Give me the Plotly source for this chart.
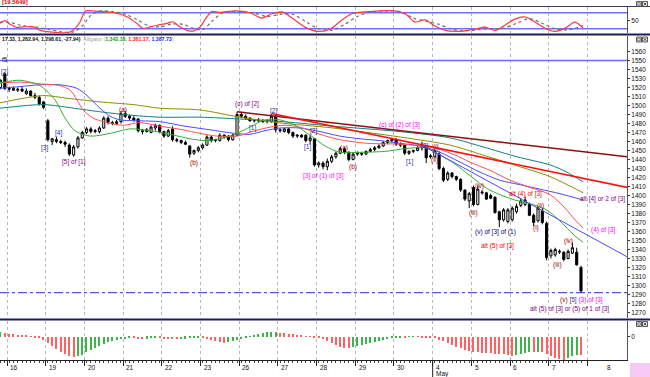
import plotly.graph_objects as go

# ---------------- data ----------------
candle_idx = list(range(-2, 134))
opens = [1520, 1535,
         1518, 1519, 1517, 1518, 1513, 1516, 1511, 1509, 1504,
         1483, 1460, 1462, 1460, 1459, 1456, 1445, 1454, 1464,
         1470, 1474, 1471, 1471, 1475, 1486, 1481, 1480, 1482,
         1491, 1488, 1486, 1485, 1472, 1471, 1470, 1475, 1478,
         1471, 1466, 1474, 1462, 1461, 1459, 1455, 1447, 1450,
         1453, 1456, 1465, 1461, 1461, 1467, 1466, 1462, 1467,
         1490, 1488, 1486, 1483, 1484, 1483, 1482, 1482, 1488,
         1473, 1471, 1474, 1470, 1466, 1467, 1467, 1461, 1463,
         1434, 1436, 1432, 1438, 1443, 1447, 1452, 1448, 1440,
         1446, 1447, 1446, 1449, 1451, 1453, 1455, 1459, 1461,
         1462, 1457, 1456, 1447, 1449, 1450, 1453, 1454, 1443,
         1443, 1446, 1430, 1418, 1425, 1421, 1418, 1406, 1394,
         1409, 1390, 1404, 1403, 1400, 1398, 1382, 1373, 1371,
         1373, 1382, 1389, 1390, 1390, 1378, 1372, 1383, 1369,
         1333, 1334, 1337, 1337, 1330, 1336, 1337, 1320]
highs = [1529, 1537,
         1521, 1521, 1520, 1521, 1519, 1517, 1514, 1511, 1505,
         1485, 1464, 1465, 1462, 1461, 1458, 1456, 1466, 1472,
         1476, 1476, 1474, 1477, 1488, 1488, 1483, 1484, 1494,
         1494, 1490, 1488, 1486, 1474, 1475, 1478, 1480, 1479,
         1472, 1474, 1477, 1464, 1462, 1461, 1456, 1451, 1455,
         1458, 1467, 1466, 1463, 1469, 1468, 1467, 1469, 1493,
         1493, 1490, 1487, 1485, 1486, 1485, 1484, 1490, 1490,
         1475, 1475, 1475, 1471, 1468, 1468, 1468, 1467, 1464,
         1438, 1438, 1441, 1445, 1449, 1454, 1453, 1449, 1448,
         1449, 1448, 1450, 1453, 1455, 1457, 1460, 1462, 1464,
         1464, 1459, 1457, 1450, 1451, 1455, 1460, 1456, 1446,
         1452, 1449, 1432, 1427, 1426, 1422, 1419, 1407, 1404,
         1411, 1411, 1406, 1404, 1402, 1399, 1383, 1386, 1386,
         1388, 1391, 1397, 1399, 1392, 1380, 1388, 1386, 1371,
         1341, 1342, 1340, 1338, 1340, 1348, 1342, 1322]
lows = [1518, 1517,
        1515, 1516, 1515, 1515, 1512, 1510, 1507, 1500, 1496,
        1460, 1456, 1458, 1457, 1454, 1444, 1443, 1452, 1463,
        1468, 1469, 1469, 1469, 1474, 1479, 1478, 1478, 1480,
        1486, 1484, 1482, 1470, 1468, 1470, 1469, 1472, 1469,
        1464, 1465, 1460, 1459, 1457, 1456, 1442, 1445, 1448,
        1451, 1455, 1459, 1459, 1460, 1463, 1460, 1461, 1466,
        1486, 1484, 1482, 1481, 1482, 1481, 1480, 1481, 1470,
        1470, 1470, 1468, 1464, 1464, 1464, 1459, 1457, 1432,
        1431, 1429, 1428, 1436, 1441, 1446, 1446, 1438, 1439,
        1444, 1444, 1445, 1448, 1449, 1452, 1454, 1457, 1459,
        1455, 1454, 1445, 1445, 1447, 1449, 1450, 1436, 1441,
        1442, 1428, 1415, 1416, 1419, 1416, 1404, 1394, 1386,
        1388, 1389, 1401, 1395, 1396, 1380, 1365, 1371, 1369,
        1371, 1380, 1387, 1388, 1377, 1366, 1370, 1368, 1328,
        1330, 1332, 1335, 1327, 1329, 1335, 1322, 1292]
closes = [1528, 1519,
          1519, 1517, 1518, 1516, 1516, 1511, 1509, 1502, 1498,
          1462, 1463, 1460, 1459, 1457, 1446, 1454, 1464, 1470,
          1474, 1471, 1472, 1475, 1486, 1481, 1480, 1482, 1491,
          1488, 1486, 1484, 1472, 1471, 1473, 1476, 1478, 1471,
          1466, 1472, 1462, 1461, 1459, 1457, 1446, 1450, 1453,
          1456, 1465, 1461, 1462, 1467, 1465, 1462, 1467, 1490,
          1488, 1486, 1483, 1484, 1483, 1482, 1483, 1488, 1473,
          1472, 1474, 1470, 1466, 1467, 1465, 1461, 1464, 1434,
          1436, 1432, 1438, 1443, 1447, 1452, 1448, 1440, 1446,
          1447, 1446, 1449, 1451, 1453, 1455, 1459, 1461, 1462,
          1457, 1456, 1447, 1449, 1450, 1453, 1456, 1442, 1444,
          1450, 1430, 1417, 1425, 1421, 1418, 1406, 1396, 1402,
          1390, 1407, 1403, 1396, 1397, 1381, 1373, 1384, 1384,
          1386, 1388, 1394, 1395, 1378, 1370, 1386, 1370, 1331,
          1339, 1340, 1338, 1329, 1338, 1342, 1323, 1294]

# Alligator & moving averages (knots)
lips_x = [-2.13, 2.5, 7.2, 10.7, 13, 15.3, 18.8, 23.5, 28.1, 32.8, 37.4, 42.1, 45.6, 49, 52.5, 56, 59.5, 63,
          66.5, 70, 73.5, 76.9, 81.6, 87.4, 92.1, 96.7, 100.2, 103.7, 107.2, 111.1, 114.1, 117.6, 121.1,
          124.6, 126.9, 129.3, 131.6, 133.5]
lips_y = [1525, 1528, 1522, 1506, 1486, 1472, 1466, 1469, 1474, 1472, 1468, 1463, 1461, 1463, 1468, 1476, 1484,
          1484, 1478, 1467, 1455, 1448, 1448, 1449, 1452, 1453, 1445, 1435, 1422, 1408, 1401, 1395, 1391,
          1385, 1377, 1366, 1355, 1348]
teeth_x = [-2.13, 2.5, 7.2, 11.8, 14.2, 15.8, 17.2, 19.5, 22.8, 26.5, 30.4, 35.1, 40.4, 44.4, 48.3, 53, 57.2,
           60.7, 64.2, 67.6, 72.3, 76.9, 83.2, 90.9, 98.6, 103.7, 107.2, 111.8, 116.5, 121.1, 125.8, 129.3,
           131.6, 133.5]
teeth_y = [1525, 1526, 1524, 1522, 1517, 1506, 1495, 1486, 1481, 1478, 1481, 1477, 1473, 1469, 1466, 1466, 1472,
           1476, 1478, 1476, 1468, 1462, 1458, 1457, 1453, 1445, 1437, 1428, 1417, 1409, 1401, 1386, 1373, 1364]
jaw_x = [-2.13, 2.5, 7.2, 11.8, 15.8, 18.1, 21.1, 23.5, 25.8, 30.4, 35.1, 40.9, 46.7, 52.5, 56, 59.5, 63, 67.6,
         72.3, 76.9, 81.6, 86.2, 90.9, 95.6, 100.2, 104.9, 109.5, 114.1, 118.8, 123.5, 128.1, 133.5]
jaw_y = [1519, 1521, 1523, 1523, 1519, 1511, 1497, 1488, 1484, 1483, 1482, 1477, 1473, 1469, 1468, 1472, 1475,
         1475, 1471, 1466, 1463, 1461, 1458, 1455, 1448, 1437, 1426, 1417, 1412, 1407, 1402, 1395]
olive_x = [-2.13, 7.9, 13.5, 21.1, 28.8, 35.1, 44.4, 53.7, 62.3, 75.3, 90.9, 102.5, 110.2, 118.1, 125.8, 133.5]
olive_y = [1503, 1511, 1508, 1504, 1501, 1497, 1495, 1487, 1481, 1475, 1465, 1456, 1445, 1433, 1421, 1403]
teal_x = [-2.13, 7.9, 13.5, 21.1, 28.8, 35.1, 44.4, 53.7, 63.7, 75.3, 90.9, 102.5, 110.2, 118.1, 125.8, 129.7,
          133.5]
teal_y = [1497, 1501, 1498, 1493, 1489, 1487, 1487, 1485, 1482, 1477, 1471, 1464, 1454, 1443, 1434, 1426, 1415]

# trend lines (start, end)
maroon_x = [53, 143.7]
maroon_y = [1493, 1443]
redtl_x = [61, 143.7]
redtl_y = [1491, 1409]
bluetl_x = [96, 143.7]
bluetl_y = [1456, 1332]
level_top = 1550
level_low = 1292

# oscillator (top panel)
osc_x = [-2.13, -1, 0.2, 1.8, 3.2, 5.6, 7.2, 9.5, 13.5, 14.9, 16.5, 17.6, 18.3, 21.1, 24.2, 27.4, 29.7, 31.1,
         32.8, 34.4, 36.7, 38.1, 39.7, 41.4, 42.8, 44.4, 46, 47.2, 49, 52.5, 56, 58.8, 61.1, 63.5, 65.8, 68.8,
         71.8, 74.6, 77.4, 79.7, 82.8, 86.2, 89.7, 92.1, 94.4, 96.7, 99, 101.4, 104.8, 108.3, 110.7, 113,
         115.3, 117.6, 120, 122.3, 124.6, 126.9, 129.3, 131.6, 133.5]
osc_red = [40, 50, 37, 25, 27, 27, 14, 8, 5, 14, 46, 85, 88, 85, 81, 65, 40, 21, 27, 33, 40, 46, 27, 14, 11,
           27, 65, 85, 81, 87, 80, 60, 76, 83, 60, 26, 10, 18, 53, 76, 83, 87, 87, 76, 45, 53, 30, 14, 10, 18,
           26, 14, 33, 56, 64, 45, 22, 10, 22, 45, 22]
sig_x = [-2.13, 0.5, 3, 6, 9, 12, 15, 17, 19, 21, 24, 27, 30, 32.5, 35, 38, 40.5, 43, 45, 47, 49.5, 53, 57, 60,
         63, 66, 69, 72, 75, 78, 81, 84, 88, 91, 94, 97, 100, 103, 106, 109, 112, 115, 118, 121, 124, 127, 130,
         133.5]
sig_y = [45, 42, 32, 27, 18, 9, 8, 30, 70, 86, 84, 74, 52, 30, 27, 38, 36, 20, 16, 45, 78, 85, 78, 66, 74, 74,
         46, 20, 14, 36, 66, 82, 87, 84, 60, 48, 36, 18, 12, 16, 20, 22, 40, 58, 40, 20, 16, 32]
osc_levels = [80, 20]

# histogram (bottom panel)
ao_vals = [7.5, 6,
           4.5, 4.5, 3, 3, 1.5, 0.8, -0.8, -1.5, -4.5,
           -9, -13.5, -18, -22.5, -25.5, -28.5, -30, -29, -27,
           -22.5, -19.5, -16.5, -13.5, -10.5, -7.5, -6, -4.5, -3.8,
           -3, -2.3, -2.5, -3, -3.2, -2.7, -2.3, -2.1, -2.4,
           -3, -3.2, -3.4, -3.8, -3.3, -2.7, -2.2, -1.8, -1.5,
           -2.2, -3, -4.5, -6.8, -8.2, -9, -7.5, -6, -4.5,
           -3, -1.5, 0.8, 2.3, 3.8, 5.3, 6.8, 7.5, 7.8,
           6, 5.3, 4.5, 3.8, 3, 1.5, 0.8, 0.3, -0.8,
           -1.5, -3, -6, -9, -12, -15, -16.5, -17.3, -15.8,
           -14.3, -12.8, -11.3, -9.8, -8.3, -6.8, -5.3, -3.8, -2.3,
           -1.5, -0.8, -1, 0.5, 0.8, 0.5, -0.8, -1.2, -1.5,
           -2.3, -4.5, -6.8, -9, -12, -15, -16.5, -19.5, -21,
           -22.5, -23.3, -24, -24.5, -24.8, -25.5, -26.3, -26.5, -27,
           -28.5, -27, -25.5, -24, -22.5, -23, -22.8, -23.5, -25.5,
           -28.5, -31.5, -33, -34.5, -31.5, -28.5, -27, -28]

# x axis day labels
day_labels = ["16", "19", "20", "21", "22", "23", "26", "27", "28", "29", "30", "4", "5", "6", "7", "8"]
day_bounds = [-0.5 + 9 * k for k in range(16)]
price_ticks = list(range(1270, 1561, 10))

# wave labels: text, x, price, colour
NAVY = "#2b2ba6"
PURP = "#800080"
DRED = "#a00000"
MAG = "#ff00ff"
RED = "#ff0000"
wave_labels = [
    ("[2]", -1.0, 1537, NAVY), ("[3]", 8.3, 1453, NAVY), ("[4]", 11.4, 1469, NAVY),
    ("[5] of [1]", 15.1, 1437, PURP), ("(a)", 26.5, 1495, DRED), ("(b)", 43, 1436, DRED),
    ("(c) of [2]", 55.3, 1502, PURP), ("[1]", 56.5, 1475, NAVY), ("[2]", 61.4, 1494, NAVY),
    ("[1]", 69.5, 1454, NAVY), ("[2]", 70.9, 1472, NAVY), ("[3] of (1) of [3]", 73.2, 1422, MAG),
    ("(a)", 77.9, 1453, DRED), ("(b)", 80, 1432, DRED), ("(c) of (2) of [3]", 90.7, 1478, MAG),
    ("[1]", 93.2, 1437, NAVY), ("[2]", 96.7, 1455, NAVY), ("(i)", 99.3, 1454, DRED),
    ("(ii)", 99.0, 1439, DRED), ("(iii)", 108.1, 1381, DRED), ("(iv)", 109.5, 1411, DRED),
    ("(v) of [3] of (1)", 113.2, 1359, "#000080"), ("alt (5) of [3]", 113.5, 1344, RED),
    ("alt (4) of [3]", 120.2, 1402, RED), ("(i)", 122.5, 1364, DRED), ("(ii)", 123.5, 1388, DRED),
    ("alt [4] or 2 of [3]", 137.9, 1396, PURP), ("(4) of [3]", 138.1, 1362, MAG),
    ("(iv)", 130.2, 1349, DRED), ("(iii)", 127.6, 1323, DRED),
    ("alt (5) of [3] or (5) of 1 of [3]", 130.4, 1274, PURP),
]

# ---------------- geometry ----------------
W, H = 650, 377
PLOT_W = 627
X_MIN, X_MAX = -2.13, 143.7
FONT = "Liberation Sans, Arial, sans-serif"


def pxx(px):
    return px / PLOT_W


def pxy(py):
    return 1 - py / H


fig = go.Figure()

# main panel
fig.add_trace(go.Candlestick(
    x=candle_idx, open=opens, high=highs, low=lows, close=closes,
    increasing=dict(line=dict(color="black", width=1), fillcolor="white"),
    decreasing=dict(line=dict(color="black", width=1), fillcolor="black"),
    whiskerwidth=0, xaxis="x", yaxis="y", showlegend=False, hoverinfo="skip"))

for xs, ys, col in [(teal_x, teal_y, "#108080"), (olive_x, olive_y, "#8c8c00"),
                    (jaw_x, jaw_y, "#4a4aff"), (teeth_x, teeth_y, "#ff5050"),
                    (lips_x, lips_y, "#30b030")]:
    fig.add_trace(go.Scatter(x=xs, y=ys, mode="lines", xaxis="x", yaxis="y", showlegend=False,
                             hoverinfo="skip",
                             line=dict(color=col, width=1, shape="spline", smoothing=0.8)))

fig.add_trace(go.Scatter(x=maroon_x, y=maroon_y, mode="lines", xaxis="x", yaxis="y", showlegend=False,
                         line=dict(color="#8b1010", width=1.6)))
fig.add_trace(go.Scatter(x=redtl_x, y=redtl_y, mode="lines", xaxis="x", yaxis="y", showlegend=False,
                         line=dict(color="#ff1010", width=1.6)))
fig.add_trace(go.Scatter(x=bluetl_x, y=bluetl_y, mode="lines", xaxis="x", yaxis="y", showlegend=False,
                         line=dict(color="#4a4aff", width=1)))
fig.add_trace(go.Scatter(x=[X_MIN, X_MAX], y=[level_top, level_top], mode="lines", xaxis="x", yaxis="y",
                         showlegend=False, line=dict(color="#6a6aff", width=1.5)))
fig.add_trace(go.Scatter(x=[X_MIN, X_MAX], y=[level_low, level_low], mode="lines", xaxis="x", yaxis="y",
                         showlegend=False, line=dict(color="#2a2ad0", width=1, dash="dashdot")))

# top oscillator
for lv in osc_levels:
    fig.add_trace(go.Scatter(x=[X_MIN, X_MAX], y=[lv, lv], mode="lines", xaxis="x2", yaxis="y2",
                             showlegend=False, line=dict(color="#7070ff", width=1.5)))
fig.add_trace(go.Scatter(x=sig_x, y=sig_y, mode="lines", xaxis="x2", yaxis="y2", showlegend=False,
                         line=dict(color="#707070", width=1.2, dash="dot", shape="spline", smoothing=0.8)))
fig.add_trace(go.Scatter(x=osc_x, y=osc_red, mode="lines", xaxis="x2", yaxis="y2", showlegend=False,
                         line=dict(color="#ff3a3a", width=1.2, shape="spline", smoothing=0.8)))

# bottom histogram
ao_colors = ["#3cb44b" if i > 0 and ao_vals[i] > ao_vals[i - 1] else "#ff6060" for i in range(len(ao_vals))]
ao_colors[0] = "#3cb44b"
fig.add_trace(go.Bar(x=candle_idx, y=ao_vals, marker=dict(color=ao_colors, line=dict(width=0)), width=0.28,
                     xaxis="x3", yaxis="y3", showlegend=False, hoverinfo="skip"))

# ---------------- axes ----------------
grid = dict(showgrid=True, gridcolor="#b8b8b8", griddash="dot", gridwidth=1,
            tickmode="array", tickvals=day_bounds, zeroline=False, range=[X_MIN, X_MAX],
            domain=[0, 1], fixedrange=True)
tick_font = dict(size=6.5, family=FONT, color="#111")
fig.update_layout(
    xaxis=dict(**grid, anchor="y", showticklabels=False, ticks="", rangeslider=dict(visible=False)),
    xaxis2=dict(**grid, anchor="y2", showticklabels=False, ticks=""),
    xaxis3=dict(**grid, anchor="y3", showticklabels=False, ticks="outside", ticklen=5, tickcolor="#222",
                showline=True, linecolor="#222", linewidth=1,
                minor=dict(ticks="outside", ticklen=2, tickcolor="#444", tickvals=candle_idx)),
    yaxis=dict(domain=[pxy(318), pxy(36)], range=[1263.9, 1577.2], side="right", tickmode="array",
               tickvals=price_ticks, ticktext=[str(v) for v in price_ticks], ticks="outside", ticklen=2,
               tickcolor="#333", tickfont=tick_font, showgrid=False, automargin=False,
               showline=True, linecolor="#555", zeroline=False, anchor="x"),
    yaxis2=dict(domain=[pxy(33), pxy(7)], range=[3.9, 101.4], side="right", tickmode="array", tickvals=[50],
                ticktext=["50"], ticks="outside", ticklen=2, tickcolor="#333", automargin=False,
                tickfont=tick_font, showgrid=False, showline=True,
                linecolor="#555", zeroline=False, anchor="x2"),
    yaxis3=dict(domain=[pxy(360), pxy(321)], range=[-34.95, 23.55], side="right", tickmode="array",
                tickvals=[0], ticktext=["0"], ticks="outside", ticklen=2, tickcolor="#333", automargin=False,
                tickfont=tick_font, showgrid=False, showline=True,
                linecolor="#555", zeroline=False, anchor="x3"),
    width=W, height=H, margin=dict(l=0, r=W - PLOT_W, t=0, b=0, pad=0),
    paper_bgcolor="white", plot_bgcolor="white", showlegend=False, bargap=0,
    font=dict(family=FONT, size=7, color="black"),
)

# ---------------- shapes ----------------
shapes = []
right_edge = pxx(W)
for py, wdt, col in [(6.5, 1, "#3a3a6a"), (34.5, 2, "#1c1c5c"), (319.5, 2, "#1c1c5c")]:
    shapes.append(dict(type="line", xref="paper", yref="paper", x0=0, x1=right_edge, y0=pxy(py), y1=pxy(py),
                       line=dict(color=col, width=wdt)))
may_b = day_bounds[11]
shapes.append(dict(type="line", xref="x3", yref="paper", x0=may_b, x1=may_b, y0=pxy(361), y1=pxy(377),
                   line=dict(color="#222", width=1)))
for top in [1.5, 37, 321.5]:
    for bx in [636.5, 642.5]:
        shapes.append(dict(type="rect", xref="paper", yref="paper", x0=pxx(bx), x1=pxx(bx + 5),
                           y0=pxy(top + 5), y1=pxy(top), line=dict(color="#333", width=0.8),
                           fillcolor="#f0f0f0"))
    shapes.append(dict(type="rect", xref="paper", yref="paper", x0=pxx(637.8), x1=pxx(640.3),
                       y0=pxy(top + 3.8), y1=pxy(top + 1.3), line=dict(color="#333", width=0.6)))
    shapes.append(dict(type="line", xref="paper", yref="paper", x0=pxx(643.6), x1=pxx(646.4),
                       y0=pxy(top + 1.1), y1=pxy(top + 3.9), line=dict(color="#222", width=0.8)))
    shapes.append(dict(type="line", xref="paper", yref="paper", x0=pxx(643.6), x1=pxx(646.4),
                       y0=pxy(top + 3.9), y1=pxy(top + 1.1), line=dict(color="#222", width=0.8)))
shapes.append(dict(type="rect", xref="paper", yref="paper", x0=pxx(630), x1=pxx(650), y0=0, y1=pxy(363),
                   line=dict(width=0), fillcolor="#f6c8f6"))
fig.update_layout(shapes=shapes)

# ---------------- annotations ----------------
ann = []
for txt, xv, yv, col in wave_labels:
    ann.append(dict(text=txt, x=xv, y=yv, xref="x", yref="y", showarrow=False,
                    font=dict(size=6.5, color=col, family=FONT), xanchor="center", yanchor="middle"))
ann.append(dict(text="<span style='color:#a00000'>(v)</span> <span style='color:#2b2ba6'>[5]</span> "
                     "<span style='color:#ff00ff'>(3) of [3]</span>",
                x=133, y=1284, xref="x", yref="y", showarrow=False,
                font=dict(size=6.5, family=FONT), xanchor="center", yanchor="middle"))
ann.append(dict(text="f5", x=0, y=pxy(59.5), xref="paper", yref="paper", showarrow=False,
                font=dict(size=6.5, color="#222", family=FONT), xanchor="left", yanchor="middle"))
ann.append(dict(text="<b>[19.5649]</b>", x=0, y=pxy(2.5), xref="paper", yref="paper", showarrow=False,
                font=dict(size=6, color="#e00000", family=FONT), xanchor="left", yanchor="middle"))
ann.append(dict(text="<b>17.33, 1,282.94, 1,298.61, -27.94)</b>  "
                     "<span style='color:#9a9a9a'><i>Alligator</i> (</span>"
                     "<b><span style='color:#139a13'>1,342.18,</span> "
                     "<span style='color:#ff2020'>1,361.17,</span> "
                     "<span style='color:#2020ff'>1,387.73</span></b>"
                     "<span style='color:#9a9a9a'>)</span>",
                x=0, y=pxy(39.5), xref="paper", yref="paper", showarrow=False,
                font=dict(size=5.2, color="#111", family=FONT), xanchor="left", yanchor="middle"))
label_x = day_bounds[:15] + [138.2]
for lab, xb in zip(day_labels, label_x):
    ann.append(dict(text=lab, x=xb + 0.3, y=pxy(367.5), xref="x3", yref="paper", showarrow=False,
                    font=dict(size=6.5, color="#111", family=FONT), xanchor="left", yanchor="middle"))
ann.append(dict(text="May", x=may_b + 0.3, y=pxy(373.5), xref="x3", yref="paper", showarrow=False,
                font=dict(size=6.5, color="#111", family=FONT), xanchor="left", yanchor="middle"))
fig.update_layout(annotations=ann)

fig.write_html("out.html", config={"displayModeBar": False},
               post_script="document.body.style.margin='0px';")
